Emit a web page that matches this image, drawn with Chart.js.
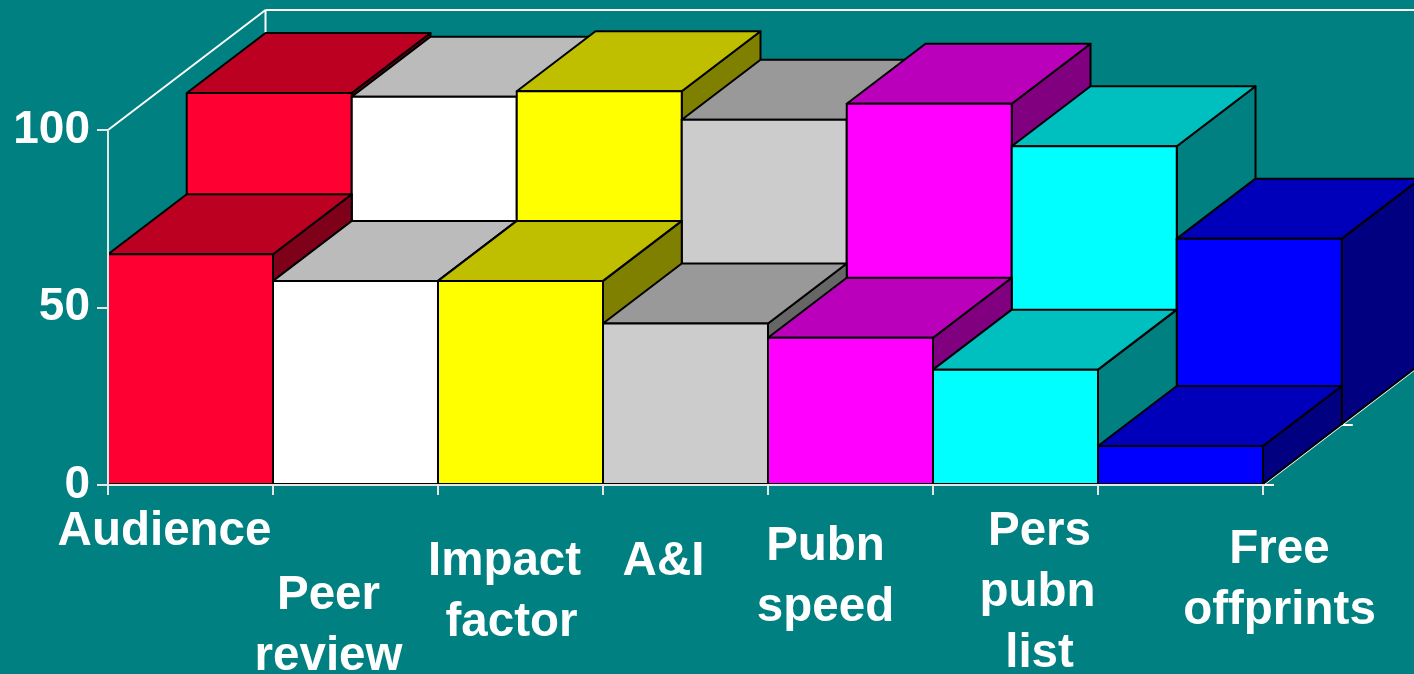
<!DOCTYPE html>
<html>
<head>
<meta charset="utf-8">
<title>3D bars</title>
<script src="https://cdn.jsdelivr.net/npm/chart.js@4/dist/chart.umd.js"></script>
<style>
    html, body { margin: 0; padding: 0; background: #008080; overflow: hidden; }
    canvas { display: block; }
</style>
</head>
<body>
<canvas id="myBarChart" width="1414" height="674"></canvas>
<script>
// data
const categories = ["Audience", ["Peer", "review"], ["Impact", "factor"], "A&I", ["Pubn", "speed"], ["Pers", "pubn", "list"], ["Free", "offprints"]];
const frontValues = [65, 57.5, 57.5, 45.5, 41.5, 32.5, 11];
const backValues = [93.5, 92.5, 94, 86, 90.5, 78.5, 52.5];
const yTicks = [0, 50, 100];

// face colours per category
const faceColors = ["#ff0033", "#ffffff", "#ffff00", "#cccccc", "#ff00ff", "#00ffff", "#0000ff"];
const topColors = ["#bb0022", "#bbbbbb", "#bfbf00", "#999999", "#bb00bb", "#00bfbf", "#0000bb"];
const sideColors = ["#7f0019", "#808080", "#808000", "#666666", "#800080", "#008080", "#000080"];

// one row of depth on screen
const depthX = 78.75;
const depthY = -60;
// shift of the staggered x labels from their category centre
const labelShiftX = [-26, -27, -16, -22, -25, 24, 99];
const labelFirstBaseline = [545, 609, 575, 575, 560, 545, 563];
const labelLineHeight = 61;
// a few wrapped lines are not quite centred in the original
const lineNudge = { factor: 7, pubn: -2 };
const fontFamily = '"Liberation Sans", Arial, sans-serif';

function poly(ctx, pts, fill) {
    ctx.beginPath();
    pts.forEach((p, i) => i ? ctx.lineTo(p[0], p[1]) : ctx.moveTo(p[0], p[1]));
    ctx.closePath();
    ctx.fillStyle = fill;
    ctx.fill();
    ctx.stroke();
}

function line(ctx, x1, y1, x2, y2) {
    ctx.beginPath();
    ctx.moveTo(x1, y1);
    ctx.lineTo(x2, y2);
    ctx.stroke();
}

// draws every bar as a box, row 0 in front, using the elements from the library
const boxes3d = {
    id: 'boxes3d',
    beforeDatasetDraw(chart, args) {
        const ctx = chart.ctx;
        const row = args.index;
        const ox = row * depthX;
        const oy = row * depthY;
        ctx.save();
        ctx.strokeStyle = '#000';
        ctx.lineWidth = 2;
        ctx.lineJoin = 'round';
        args.meta.data.forEach((bar, i) => {
            const l = bar.x - bar.width / 2 + ox;
            const r = bar.x + bar.width / 2 + ox;
            const t = bar.y + oy;
            const b = bar.base + oy;
            poly(ctx, [[r, t], [r + depthX, t + depthY], [r + depthX, b + depthY], [r, b]], sideColors[i]);
            poly(ctx, [[l, t], [l + depthX, t + depthY], [r + depthX, t + depthY], [r, t]], topColors[i]);
            poly(ctx, [[l, t], [r, t], [r, b], [l, b]], faceColors[i]);
        });
        ctx.restore();
        return false; // library's flat bar not needed
    }
};

// back wall and floor edges
const walls = {
    id: 'walls',
    beforeDatasetsDraw(chart) {
        const ctx = chart.ctx;
        const a = chart.chartArea;
        const backX = a.left + 2 * depthX;
        const backY = a.top + 2 * depthY;
        ctx.save();
        ctx.strokeStyle = '#fff';
        ctx.lineWidth = 2;
        line(ctx, a.left, a.top, backX, backY);
        line(ctx, backX, backY, chart.width, backY);
        line(ctx, backX, backY, backX, a.top);
        line(ctx, a.right, a.bottom, a.right + 2 * depthX, a.bottom + 2 * depthY);
        line(ctx, a.right + depthX, a.bottom + depthY, a.right + depthX + 11, a.bottom + depthY);
        line(ctx, a.right, a.bottom, a.right + 11, a.bottom);
        ctx.restore();
    }
};

// x labels sit at different heights in the original, scale can't stagger them
const staggeredLabels = {
    id: 'staggeredLabels',
    afterDraw(chart) {
        const ctx = chart.ctx;
        const xScale = chart.scales.x;
        ctx.save();
        ctx.fillStyle = '#fff';
        ctx.font = 'bold 47.5px ' + fontFamily;
        ctx.textAlign = 'center';
        ctx.textBaseline = 'alphabetic';
        categories.forEach((cat, i) => {
            const x = xScale.getPixelForValue(i) + labelShiftX[i];
            [].concat(cat).forEach((txt, n) => {
                ctx.fillText(txt, x + (lineNudge[txt] || 0), labelFirstBaseline[i] + n * labelLineHeight);
            });
        });
        ctx.restore();
    }
};

new Chart(document.getElementById('myBarChart'), {
    type: 'bar',
    data: {
        labels: categories,
        datasets: [
            { label: 'Front', data: frontValues, backgroundColor: faceColors },
            { label: 'Back', data: backValues, backgroundColor: faceColors }
        ]
    },
    options: {
        responsive: false,
        animation: false,
        layout: { padding: { top: 130, right: 151, left: 0, bottom: 0 } },
        datasets: { bar: { grouped: false, barPercentage: 1, categoryPercentage: 1 } },
        plugins: { legend: { display: false }, tooltip: { enabled: false } },
        scales: {
            x: {
                afterFit(scale) { scale.height = 189; },
                border: { color: '#e6e6e6', width: 2, z: 2 },
                grid: { drawOnChartArea: false, color: '#e6e6e6', lineWidth: 2, tickLength: 10, z: 2 },
                ticks: { display: false }
            },
            y: {
                min: 0,
                max: 100,
                afterFit(scale) { scale.width = 108; },
                afterBuildTicks(scale) { scale.ticks = yTicks.map(v => ({ value: v })); },
                border: { color: '#e6e6e6', width: 2, z: 2 },
                grid: { drawOnChartArea: false, color: '#e6e6e6', lineWidth: 2, tickLength: 11, z: 2 },
                ticks: { color: '#fff', padding: 7, font: { family: fontFamily, weight: 'bold', size: 46 } }
            }
        }
    },
    plugins: [walls, boxes3d, staggeredLabels]
});
</script>
</body>
</html>
